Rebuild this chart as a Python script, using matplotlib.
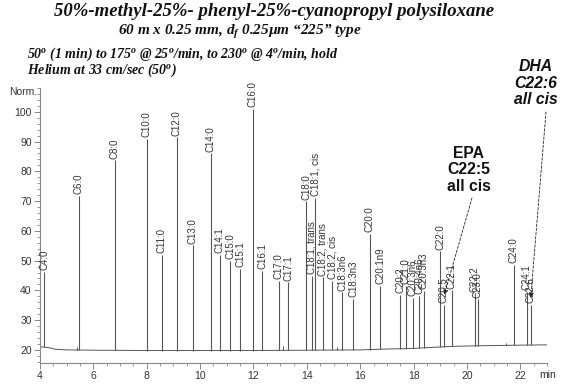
import numpy as np
import matplotlib
matplotlib.use('Agg')
import matplotlib.pyplot as plt

plt.rcParams['font.family'] = ['Liberation Sans', 'DejaVu Sans']
plt.rcParams['mathtext.fontset'] = 'custom'
plt.rcParams['mathtext.it'] = 'Liberation Serif:bold:italic'
plt.rcParams['mathtext.rm'] = 'Liberation Serif:bold:italic'

# retention time (min), normalised height, label
peak_names = ['C4:0', 'C6:0', 'C8:0', 'C10:0', 'C11:0', 'C12:0', 'C13:0', 'C14:0',
              'C14:1', 'C15:0', 'C15:1', 'C16:0', 'C16:1', 'C17:0', 'C17:1', 'C18:0',
              'C18:1, trans', 'C18:1, cis', 'C18:2, trans', 'C18:2, cis', 'C18:3n6',
              'C18:3n3', 'C20:0', 'C20:1n9', 'C20:2', 'C21:0', 'C20:3n6', 'C20:4n6',
              'C20:3n3', 'C22:0', 'C20:5', 'C22:1', 'C22:2', 'C23:0', 'C24:0',
              'C24:1', 'C22:6']
peak_times = [4.15, 5.46, 6.81, 8.00, 8.56, 9.13, 9.72, 10.40, 10.73, 11.13, 11.50,
              11.98, 12.32, 12.94, 13.30, 13.98, 14.19, 14.32, 14.60, 14.95, 15.33,
              15.73, 16.36, 16.76, 17.50, 17.70, 17.97, 18.22, 18.38, 19.00, 19.13,
              19.43, 20.29, 20.41, 21.76, 22.24, 22.39]
peak_heights = [46.1, 71.8, 83.7, 90.8, 52.0, 91.4, 55.1, 86.0, 52.0, 50.0, 47.2,
                101.0, 46.6, 43.2, 42.7, 69.9, 44.9, 71.0, 44.4, 43.2, 39.3, 37.2,
                59.1, 41.5, 38.4, 41.5, 37.6, 38.1, 39.8, 53.1, 35.0, 40.0, 39.0,
                37.0, 48.6, 39.5, 35.0]

# small unlabelled peaks
minor_times = [5.38, 13.10, 15.12, 21.45]
minor_heights = [21.0, 21.2, 21.0, 22.2]

# baseline drift
base_t = [4.05, 4.3, 4.6, 5.0, 6.0, 8.0, 10.0, 12.0, 14.0, 16.0, 17.0, 18.0,
          18.8, 19.5, 20.5, 22.0, 23.0]
base_v = [21.0, 20.8, 20.2, 20.0, 19.9, 19.8, 19.8, 19.8, 19.9, 20.0, 20.3, 20.5,
          20.9, 21.2, 21.4, 21.6, 21.7]

W, H = 586, 392
fig = plt.figure(figsize=(W / 100, H / 100), dpi=100)
ax = fig.add_axes([40 / W, 1 - 363 / H, 507 / W, 275 / H])

trace = '#555555'
ax.plot(base_t, base_v, color=trace, lw=0.7)
pb = np.interp(peak_times, base_t, base_v)
ax.vlines(peak_times, pb, peak_heights, color=trace, lw=0.8)
mb = np.interp(minor_times, base_t, base_v)
ax.vlines(minor_times, mb, minor_heights, color=trace, lw=0.7)

for name, t, h in zip(peak_names, peak_times, peak_heights):
    ax.text(t, h + 0.6, name, rotation=90, ha='center', va='bottom',
            fontsize=7, color='#333333')

ax.set_xlim(4, 23)
ax.set_ylim(15.6, 108)
ax.set_xticks(np.arange(4, 23, 2))
ax.set_xticks(np.arange(4, 23.01, 0.5), minor=True)
ax.set_yticks(np.arange(20, 101, 10))
ax.set_yticks(np.arange(16, 108.5, 2), minor=True)
for s in ['top', 'right']:
    ax.spines[s].set_visible(False)
for s in ['left', 'bottom']:
    ax.spines[s].set_color('#888888')
    ax.spines[s].set_linewidth(0.8)
ax.tick_params(which='major', length=4, width=0.7, color='#888888',
               labelsize=7.5, labelcolor='#333333', pad=2)
ax.tick_params(which='minor', length=2.2, width=0.6, color='#888888')
ax.text(-0.005, 0.985, 'Norm.', transform=ax.transAxes, ha='right', va='center',
        fontsize=7.5, color='#333333')
ax.text(22.72, -0.044, 'min', transform=ax.get_xaxis_transform(), ha='left',
        va='center', fontsize=7.5, color='#333333')

# headings
serif = dict(family='Liberation Serif', weight='bold', style='italic', color='#111111')
fig.text(274 / W, 1 - 12 / H, '50%-methyl-25%- phenyl-25%-cyanopropyl polysiloxane',
         ha='center', va='center', fontsize=13.5, **serif)
fig.text(240 / W, 1 - 32 / H, '60 m x 0.25 mm, d$_f$ 0.25µm “225” type',
         ha='center', va='center', fontsize=11, **serif)
fig.text(27 / W, 1 - 54 / H,
         '50$^o$ (1 min) to 175$^o$ @ 25$^o$/min, to 230$^o$ @ 4$^o$/min, hold',
         ha='left', va='center', fontsize=10, **serif)
fig.text(27 / W, 1 - 70 / H, 'Helium at 33 cm/sec (50$^o$)',
         ha='left', va='center', fontsize=10, **serif)

# EPA / DHA callouts
fig.text(469 / W, 1 - 170 / H, 'EPA\nC22:5\nall cis', ha='center', va='center',
         fontsize=11.3, weight='bold', linespacing=1.1, color='#111111')
fig.text(536 / W, 1 - 83 / H, 'DHA\nC22:6\nall cis', ha='center', va='center',
         fontsize=11.3, weight='bold', style='italic', linespacing=1.1, color='#111111')
arrow = dict(arrowstyle='-|>', linestyle=(0, (3, 2)), lw=0.6, color='#222222',
             mutation_scale=7, shrinkA=0, shrinkB=0)
ax.annotate('', xy=(19.15, 38.5), xytext=(472 / W, 1 - 198 / H),
            textcoords='figure fraction', arrowprops=arrow, annotation_clip=False)
ax.annotate('', xy=(22.39, 37.5), xytext=(546 / W, 1 - 112 / H),
            textcoords='figure fraction', arrowprops=arrow, annotation_clip=False)

fig.savefig('out.png', dpi=100)
